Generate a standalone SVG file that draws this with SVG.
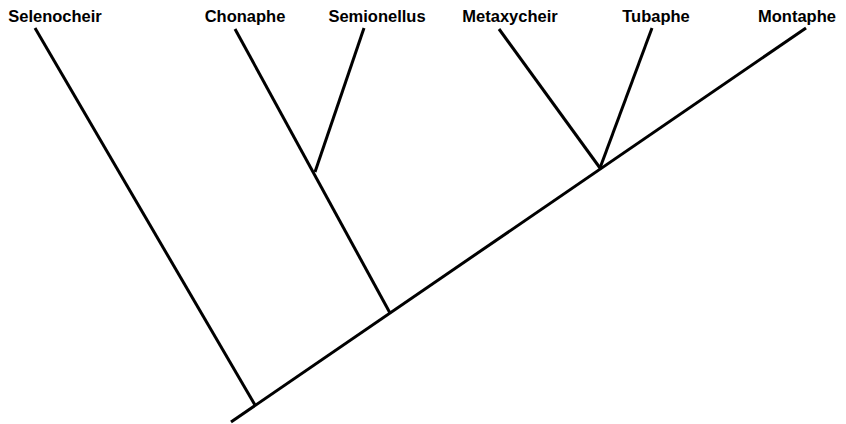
<svg xmlns="http://www.w3.org/2000/svg" width="846" height="424" viewBox="0 0 846 424">
<style>
.lbl{font-family:"Liberation Sans",Arial,sans-serif;font-weight:bold;font-size:16.5px;fill:#000;text-anchor:middle}
.br{stroke:#000;stroke-width:3;fill:none;stroke-linecap:butt}
</style>
<rect width="846" height="424" fill="#fff"/>
<g id="connectors">
<line class="br" x1="231" y1="422" x2="806" y2="28"/>
<line class="br" x1="35" y1="28" x2="255" y2="405"/>
<line class="br" x1="235" y1="29" x2="390" y2="313"/>
<line class="br" x1="364" y1="28" x2="315" y2="172"/>
<line class="br" x1="499" y1="29" x2="600" y2="168"/>
<line class="br" x1="652" y1="28" x2="600" y2="168"/>
</g>
<g id="Selenocheir"><text class="lbl" x="55" y="22">Selenocheir</text></g>
<g id="Chonaphe"><text class="lbl" x="245" y="22">Chonaphe</text></g>
<g id="Semionellus"><text class="lbl" x="377" y="22">Semionellus</text></g>
<g id="Metaxycheir"><text class="lbl" x="510" y="22">Metaxycheir</text></g>
<g id="Tubaphe"><text class="lbl" x="656" y="22">Tubaphe</text></g>
<g id="Montaphe"><text class="lbl" x="797" y="22">Montaphe</text></g>
</svg>
